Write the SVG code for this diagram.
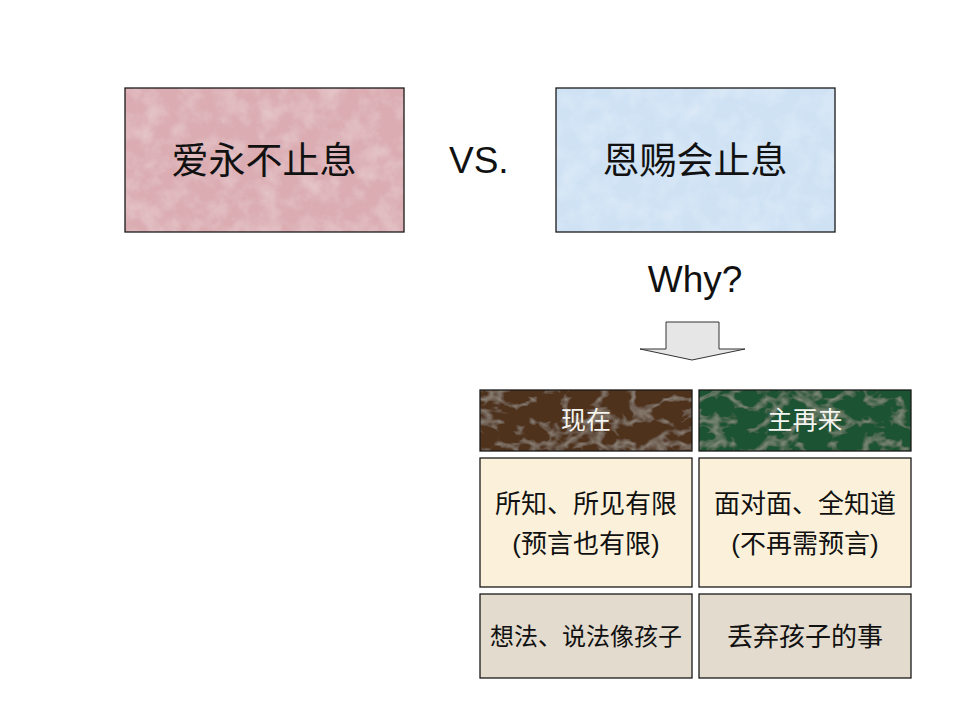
<svg xmlns="http://www.w3.org/2000/svg" width="960" height="720" viewBox="0 0 960 720">
<style>
.box{stroke:#1a1a1a;stroke-width:1.3}
.t{font-family:"Liberation Sans","Noto Sans CJK SC",sans-serif;text-anchor:middle}
.big{font-size:37px;fill:#111}
.mid{font-size:26px;fill:#111}
.hd{font-size:25px;fill:#f4f4f0}
.lat{font-family:"Liberation Sans",Arial,sans-serif;font-size:37px;fill:#111}
</style>
<defs>
<filter id="tex" x="0" y="0" width="1" height="1">
<feTurbulence type="fractalNoise" baseFrequency="0.05" numOctaves="4" seed="3" result="n"/>
<feColorMatrix in="n" type="matrix" values="0 0 0 0 1  0 0 0 0 1  0 0 0 0 1  0 0 0 -0.5 0.3" result="w"/>
<feComposite in="w" in2="SourceGraphic" operator="in" result="wm"/>
<feMerge><feMergeNode in="SourceGraphic"/><feMergeNode in="wm"/></feMerge>
</filter>
<filter id="marble" x="0" y="0" width="1" height="1">
<feTurbulence type="turbulence" baseFrequency="0.03 0.045" numOctaves="3" seed="7" result="n"/>
<feColorMatrix in="n" type="matrix" values="0 0 0 0 0.75  0 0 0 0 0.72  0 0 0 0 0.62  0 0 0 -1.0 0.28" result="w"/>
<feComposite in="w" in2="SourceGraphic" operator="in" result="wm"/>
<feMerge><feMergeNode in="SourceGraphic"/><feMergeNode in="wm"/></feMerge>
</filter>
</defs>
<rect width="960" height="720" fill="#fff"/>

<g id="node-love">
<rect x="125" y="88" width="279" height="144" fill="#dbadb3" filter="url(#tex)"/>
<rect class="box" x="125" y="88" width="279" height="144" fill="none"/>
<text class="t big" x="264" y="174">爱永不止息</text>
</g>

<g id="node-vs">
<text class="lat" x="449" y="173">VS.</text>
</g>

<g id="node-grace">
<rect x="556" y="88" width="279" height="144" fill="#cfe2f4" filter="url(#tex)"/>
<rect class="box" x="556" y="88" width="279" height="144" fill="none"/>
<text class="t big" x="695" y="174">恩赐会止息</text>
</g>

<g id="node-why">
<text class="lat" x="695" y="292" text-anchor="middle">Why?</text>
</g>

<g id="connectors">
<path d="M666,322 H719 V349 H745 L692,360 L640,349 H666 Z" fill="#e6e6e6" stroke="#333" stroke-width="1"/>
</g>

<g id="node-now">
<rect x="480" y="390" width="212" height="61" fill="#4f331f" filter="url(#marble)"/>
<rect class="box" x="480" y="390" width="212" height="61" fill="none"/>
<text class="t hd" x="586" y="429">现在</text>
</g>

<g id="node-return">
<rect x="699" y="390" width="212" height="61" fill="#1a5230" filter="url(#marble)"/>
<rect class="box" x="699" y="390" width="212" height="61" fill="none"/>
<text class="t hd" x="805" y="429">主再来</text>
</g>

<g id="node-now-know">
<rect class="box" x="480" y="458" width="212" height="129" fill="#fbf1db"/>
<text class="t mid" x="586" y="513">所知、所见有限</text>
<text class="t mid" x="586" y="553">(预言也有限)</text>
</g>

<g id="node-return-know">
<rect class="box" x="699" y="458" width="212" height="129" fill="#fbf1db"/>
<text class="t mid" x="805" y="513">面对面、全知道</text>
<text class="t mid" x="805" y="553">(不再需预言)</text>
</g>

<g id="node-now-child">
<rect class="box" x="480" y="594" width="212" height="84" fill="#e3dbcd"/>
<text class="t" style="font-size:24px;fill:#111" x="586" y="645">想法、说法像孩子</text>
</g>

<g id="node-return-child">
<rect class="box" x="699" y="594" width="212" height="84" fill="#e3dbcd"/>
<text class="t mid" x="805" y="646">丢弃孩子的事</text>
</g>
</svg>
